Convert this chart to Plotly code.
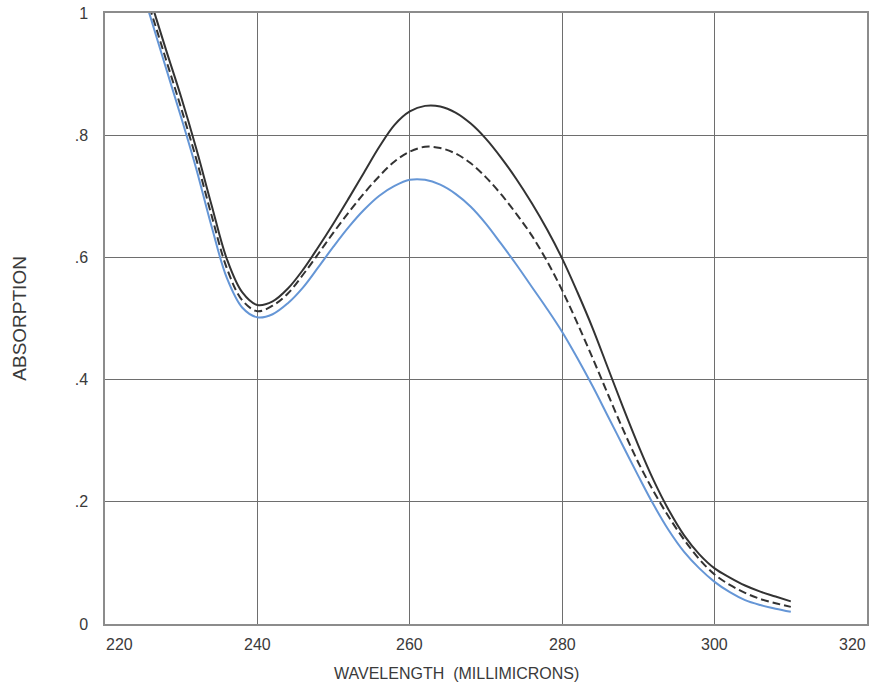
import plotly.graph_objects as go

# Absorption spectra sampled every 2 millimicrons
wavelength = list(range(224, 311, 2))

abs_solid = [1.100, 1.020, 0.940, 0.862, 0.777, 0.685, 0.597, 0.543, 0.522, 0.528,
             0.549, 0.580, 0.617, 0.656, 0.697, 0.739, 0.781, 0.817, 0.839, 0.848,
             0.847, 0.837, 0.819, 0.794, 0.763, 0.728, 0.689, 0.646, 0.598, 0.543,
             0.484, 0.419, 0.354, 0.292, 0.235, 0.186, 0.145, 0.114, 0.091, 0.076,
             0.063, 0.053, 0.045, 0.037]

abs_dashed = [1.085, 1.004, 0.924, 0.844, 0.760, 0.668, 0.582, 0.530, 0.512, 0.521,
              0.541, 0.572, 0.606, 0.641, 0.674, 0.705, 0.733, 0.757, 0.773, 0.781,
              0.779, 0.770, 0.754, 0.731, 0.703, 0.671, 0.636, 0.594, 0.546, 0.492,
              0.435, 0.376, 0.318, 0.264, 0.217, 0.175, 0.138, 0.106, 0.081, 0.064,
              0.051, 0.041, 0.034, 0.028]

abs_blue = [1.073, 0.992, 0.910, 0.829, 0.744, 0.650, 0.566, 0.518, 0.502, 0.507,
            0.525, 0.551, 0.584, 0.618, 0.650, 0.678, 0.701, 0.717, 0.727, 0.727,
            0.719, 0.704, 0.683, 0.655, 0.622, 0.588, 0.552, 0.516, 0.478, 0.435,
            0.389, 0.340, 0.291, 0.242, 0.195, 0.153, 0.118, 0.091, 0.069, 0.052,
            0.039, 0.031, 0.025, 0.020]

x_ticks = [220, 240, 260, 280, 300, 320]
x_tick_text = ["220", "240", "260", "280", "300", "320"]
y_ticks = [0, 0.2, 0.4, 0.6, 0.8, 1.0]
y_tick_text = ["0", ".2", ".4", ".6", ".8", "1"]

FONT = "Liberation Sans, Arial, Helvetica, sans-serif"
TEXT_COLOR = "#3a3a3a"
GRID = "#6e6e6e"
FRAME = "#8c8c8c"

fig = go.Figure()
fig.add_trace(go.Scatter(x=wavelength, y=abs_blue, mode="lines",
                         line=dict(color="#6596d6", width=2, shape="spline", smoothing=1)))
fig.add_trace(go.Scatter(x=wavelength, y=abs_dashed, mode="lines",
                         line=dict(color="#333333", width=2, dash="8px,4px",
                                   shape="spline", smoothing=1)))
fig.add_trace(go.Scatter(x=wavelength, y=abs_solid, mode="lines",
                         line=dict(color="#333333", width=2, shape="spline", smoothing=1)))

# x tick labels as annotations so the end labels can sit inside the frame
shifts = {220: 14, 320: -15}
for v, t in zip(x_ticks, x_tick_text):
    fig.add_annotation(x=v, y=0, xref="x", yref="paper", text=t, showarrow=False,
                       yanchor="top", yshift=-10, xshift=shifts.get(v, 0),
                       font=dict(family=FONT, size=16, color=TEXT_COLOR))

fig.add_annotation(x=0.461, y=0, xref="paper", yref="paper",
                   text="WAVELENGTH&nbsp;&nbsp;(MILLIMICRONS)", showarrow=False,
                   yanchor="middle", yshift=-49,
                   font=dict(family=FONT, size=16, color=TEXT_COLOR))
fig.add_annotation(x=-0.1126, y=0.5, xref="paper", yref="paper",
                   text="ABSORPTION", showarrow=False, textangle=-90,
                   xanchor="center", yanchor="middle",
                   font=dict(family=FONT, size=19, color=TEXT_COLOR))

fig.update_layout(
    width=869, height=683,
    margin=dict(l=105, r=0, t=13, b=59),
    plot_bgcolor="white", paper_bgcolor="white",
    showlegend=False,
    font=dict(family=FONT, size=16, color=TEXT_COLOR),
)
fig.update_xaxes(range=[220, 320], tickvals=x_ticks, showticklabels=False,
                 showgrid=True, gridcolor=GRID, gridwidth=1, zeroline=False,
                 showline=True, linecolor=FRAME, linewidth=1.5, mirror=True, ticks="")
fig.update_yaxes(range=[0, 1], tickvals=y_ticks, ticktext=y_tick_text,
                 showgrid=True, gridcolor=GRID, gridwidth=1, zeroline=False,
                 showline=True, linecolor=FRAME, linewidth=1.5, mirror=True, ticks="",
                 ticklabelstandoff=12,
                 tickfont=dict(family=FONT, size=16, color=TEXT_COLOR))

fig.write_html("out.html")
